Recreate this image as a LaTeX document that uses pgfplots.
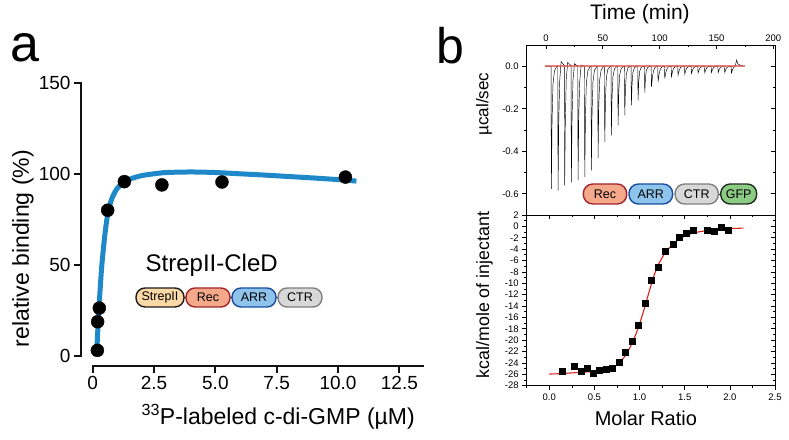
\documentclass[border=0pt]{standalone}
\usepackage{pgfplots}
\pgfplotsset{compat=1.18}
\usepackage{fontspec}
\setmainfont{Liberation Sans}
\definecolor{fitblue}{HTML}{1E88C8}
\definecolor{recfill}{HTML}{F5A98B}
\definecolor{recdraw}{HTML}{A3232A}
\definecolor{arrfill}{HTML}{8EC4EC}
\definecolor{arrdraw}{HTML}{1A4DA0}
\definecolor{ctrfill}{HTML}{D8D8D8}
\definecolor{ctrdraw}{HTML}{808080}
\definecolor{gfpfill}{HTML}{8CCB84}
\definecolor{gfpdraw}{HTML}{1F2F1F}
\definecolor{strfill}{HTML}{FBD9A6}
\definecolor{strdraw}{HTML}{1A1A1A}
\definecolor{fitred}{HTML}{E0201B}
\definecolor{baser}{HTML}{D9534F}
\definecolor{axblack}{HTML}{111111}
\newcommand{\fs}[1]{\fontsize{#1}{#1}\selectfont}
\begin{document}
\begin{tikzpicture}[x=1pt,y=1pt]
\path[use as bounding box] (0,0) rectangle (789,439);
% ---------------- panel a
\pgfplotsset{panela/.style={scale only axis, anchor=south west, height=273.3pt,
  tick align=outside, major tick length=7pt,
  every tick/.append style={draw=axblack,line width=1.8pt},
  tick label style={font=\fs{19}},
  /pgf/number format/assume math mode=true,
  label style={font=\fs{23}}, clip=false}}
\begin{axis}[panela,
  at={(81pt,83pt)}, width=342.9pt,
  xmin=-0.477, xmax=13.5, ymin=0, ymax=150,
  axis y line*=left, axis x line=none,
  axis line style={draw=axblack, line width=1.8pt, -},
  ytick={0,50,100,150}, yticklabels={0,50,100,150},
  ylabel={relative binding (\%)},
  y label style={at={(axis description cs:-0.169,0.393)},anchor=center},
]
\addplot[fitblue, line width=5pt, smooth] coordinates {
 (0.17,3) (0.2,12) (0.25,25) (0.3,36) (0.35,46) (0.4,54) (0.5,67) (0.6,77)
 (0.7,83) (0.8,87) (1.0,92) (1.3,95.5) (1.6,97.5) (2.0,99) (2.5,100) (3,100.7)
 (4,101) (5,100.7) (6,100) (7,99.3) (8,98.5) (9,97.7) (10,96.8) (10.75,96)};
\addplot[only marks, mark=*, mark size=6.5pt, black] coordinates {
 (0.19,3.1) (0.2,18.8) (0.27,26.3) (0.61,80) (1.29,95.7) (2.82,93.9) (5.27,95.5) (10.3,98.2)};
\end{axis}
\begin{axis}[panela,
  at={(92.7pt,73pt)}, width=331.2pt,
  xmin=0, xmax=13.5, ymin=0, ymax=1,
  axis x line*=bottom, axis y line=none,
  axis line style={draw=axblack, line width=1.8pt, -},
  xtick={0,2.5,5,7.5,10,12.5}, xticklabels={0,2.5,5.0,7.5,10.0,12.5},
  xlabel={\textsuperscript{33}P-labeled c-di-GMP (µM)},
  x label style={at={(axis description cs:0.56,-0.1866)},anchor=center},
]
\addplot[draw=none] coordinates {(1,0.5)};
\end{axis}
\node[font=\fs{24}] at (211.7,174) {StrepII-CleD};
\tikzset{dom/.style={rounded corners=9pt, minimum height=19pt, inner sep=0pt, line width=1.4pt, font=\fs{12.5}}}
\fill[axblack] (180,141.1) rectangle (304,141.9);
\node[dom, draw=strdraw, fill=strfill, minimum width=48pt] at (160,141.5) {StrepII};
\node[dom, draw=recdraw, fill=recfill, minimum width=44pt] at (208,141.5) {Rec};
\node[dom, draw=arrdraw, fill=arrfill, minimum width=44pt] at (254,141.5) {ARR};
\node[dom, draw=ctrdraw, fill=ctrfill, minimum width=44pt] at (300,141.5) {CTR};
\node[font=\fs{52}] at (25,391) {a};
\node[font=\fs{50}] at (450,393) {b};
% ---------------- panel b top
\pgfplotsset{itc/.style={scale only axis, width=248.3pt, anchor=south west,
  axis line style={line width=0.8pt}, every tick/.append style={black,line width=0.7pt},
  major tick length=4.5pt, minor tick length=2.5pt,
  tick label style={font=\fs{9.5}}, /pgf/number format/assume math mode=true}}
\begin{axis}[itc, at={(526.7pt,224pt)}, height=170pt,
  xmin=-17, xmax=201.5, ymin=-0.7, ymax=0.1,
  tick align=inside, xtick pos=right, xticklabel pos=right, ytick pos=right,
  xtick={0,50,100,150,200}, xticklabels={0,50,100,150,200},
  minor xtick={25,75,125,175},
  ytick={0,-0.2,-0.4,-0.6}, yticklabels={}, minor ytick={-0.1,-0.3,-0.5},
  xlabel={Time (min)}, label style={font=\fs{21}},
  x label style={at={(axis description cs:0.456,1.182)},anchor=center},
]
\addplot[black, line width=0.45pt] coordinates {
 (-1,0) (4.4,0) (4.7,-0.577) (5.3,-0.260) (6.1,-0.087) (7.4,-0.023) (9.5,0)
 (10.3,0) (10.6,-0.585) (11.2,-0.263) (12.0,-0.070) (13.3,0.022) (15.0,0.01)
 (16.1,0.005) (16.4,-0.561) (17.0,-0.252) (17.8,-0.060) (19.1,0.018) (21.0,0.008)
 (22.0,0.004) (22.3,-0.546) (22.9,-0.246) (23.7,-0.070) (25.0,0.012) (27.0,0.004)
 (27.9,0.002) (28.2,-0.535) (28.8,-0.241) (29.6,-0.075) (30.9,0.006) (33.0,0)
 (33.8,0) (34.1,-0.522) (34.7,-0.235) (35.5,-0.078) (36.8,-0.021) (39.0,0)
 (39.6,0) (39.9,-0.490) (40.5,-0.221) (41.3,-0.074) (42.6,-0.020) (45.0,0)
 (45.5,0) (45.8,-0.431) (46.4,-0.194) (47.2,-0.065) (48.5,-0.017) (50.8,0)
 (51.4,0) (51.7,-0.357) (52.3,-0.161) (53.1,-0.054) (54.4,-0.014) (56.6,0)
 (57.2,0) (57.5,-0.325) (58.1,-0.146) (58.9,-0.049) (60.2,-0.013) (62.5,0)
 (63.1,0) (63.4,-0.278) (64.0,-0.125) (64.8,-0.042) (66.1,-0.011) (68.4,0)
 (69.0,0) (69.3,-0.231) (69.9,-0.104) (70.7,-0.035) (72.0,-0.009) (74.2,0)
 (74.8,0) (75.1,-0.184) (75.7,-0.083) (76.5,-0.028) (77.8,-0.007) (80.1,0)
 (80.7,0) (81.0,-0.160) (81.6,-0.072) (82.4,-0.024) (83.7,-0.006) (86.0,0)
 (86.6,0) (86.9,-0.124) (87.5,-0.056) (88.3,-0.019) (89.6,-0.005) (91.9,0)
 (92.5,0) (92.8,-0.097) (93.7,-0.049) (94.7,-0.019) (96.0,-0.005) (98.0,0)
 (98.3,0) (98.6,-0.074) (99.5,-0.037) (100.5,-0.015) (101.8,-0.004) (103.8,0)
 (104.2,0) (104.5,-0.058) (105.4,-0.029) (106.4,-0.012) (107.7,-0.003) (109.7,0)
 (110.1,0) (110.4,-0.050) (111.3,-0.025) (112.3,-0.010) (113.6,-0.003) (115.5,0)
 (115.9,0) (116.2,-0.042) (117.1,-0.021) (118.1,-0.008) (119.4,-0.002) (121.4,0)
 (121.8,0) (122.1,-0.038) (123.0,-0.019) (124.0,-0.008) (125.3,-0.002) (127.3,0)
 (127.7,0) (128.0,-0.035) (128.9,-0.018) (129.9,-0.007) (131.2,-0.002) (133.1,0)
 (133.5,0) (133.8,-0.033) (134.7,-0.017) (135.7,-0.007) (137.0,-0.002) (139.0,0)
 (139.4,0) (139.7,-0.031) (140.6,-0.016) (141.6,-0.006) (142.9,-0.002) (144.9,0)
 (145.3,0) (145.6,-0.030) (146.5,-0.015) (147.5,-0.006) (148.8,-0.002) (150.8,0)
 (151.2,0) (151.5,-0.030) (152.4,-0.015) (153.4,-0.006) (154.7,-0.002) (156.6,0)
 (157.0,0) (157.3,-0.030) (158.2,-0.015) (159.2,-0.006) (160.5,-0.002) (162.5,0)
 (162.9,0) (163.2,-0.032) (164.1,-0.016) (165.1,-0.006) (166.4,0.000) (167.8,0.030)
 (168.6,0.012) (170.5,0.006) (173.5,0.002)};
\addplot[baser, line width=1.8pt, opacity=0.75] coordinates {(-1,0) (175,0)};
\end{axis}
\begin{axis}[itc, at={(526.7pt,224pt)}, height=170pt,
  xmin=-17, xmax=201.5, ymin=-0.7, ymax=0.1,
  xtick=\empty, ytick pos=left,
  tick align=outside,
  ytick={0,-0.2,-0.4,-0.6}, yticklabels={0.0,-0.2,-0.4,-0.6}, minor ytick={-0.1,-0.3,-0.5},
  ylabel={µcal/sec}, label style={font=\fs{17}},
  y label style={at={(axis description cs:-0.172,0.653)},anchor=center},
]
\addplot[draw=none] coordinates {(0,0)};
\end{axis}
\fill[axblack] (630,244.6) rectangle (657,245.4);
\fill[axblack] (714,244.6) rectangle (726,245.4);
\node[dom, rounded corners=9.5pt, minimum height=20pt, draw=recdraw, fill=recfill, minimum width=43.4pt] at (605,245) {Rec};
\node[dom, rounded corners=9.5pt, minimum height=20pt, draw=arrdraw, fill=arrfill, minimum width=43.7pt] at (650.8,245) {ARR};
\node[dom, rounded corners=9.5pt, minimum height=20pt, draw=ctrdraw, fill=ctrfill, minimum width=43.3pt] at (696.7,245) {CTR};
\node[dom, rounded corners=9.5pt, minimum height=20pt, draw=gfpdraw, fill=gfpfill, minimum width=36pt] at (738.7,245) {GFP};
% ---------------- panel b bottom
\begin{axis}[itc, at={(526.7pt,53.3pt)}, height=170.7pt,
  xmin=-0.25, xmax=2.5, ymin=-28, ymax=2,
  tick align=outside, xtick pos=left, ytick pos=left,
  xtick={0,0.5,1,1.5,2,2.5}, xticklabels={0.0,0.5,1.0,1.5,2.0,2.5},
  minor xtick={-0.25,0.25,0.75,1.25,1.75,2.25},
  ytick={-28,-26,...,2}, yticklabels={-28,-26,-24,-22,-20,-18,-16,-14,-12,-10,-8,-6,-4,-2,0,2},
  minor ytick={-27,-25,...,1},
  xlabel={Molar Ratio}, ylabel={kcal/mole of injectant},
  x label style={font=\fs{20}, at={(axis description cs:0.48,-0.189)},anchor=center},
  y label style={font=\fs{17.8}, at={(axis description cs:-0.170,0.531)},anchor=center},
]
\addplot[fitred, line width=1.1pt, smooth] coordinates {
 (0.0,-25.95) (0.1,-25.9) (0.2,-25.8) (0.3,-25.7) (0.4,-25.6) (0.5,-25.45) (0.6,-25.15)
 (0.7,-24.7) (0.75,-24.35) (0.8,-23.6) (0.85,-22.5) (0.9,-21.1) (0.95,-19.3) (1.0,-17.1)
 (1.05,-14.6) (1.1,-11.8) (1.15,-9.1) (1.2,-7.0) (1.25,-5.5) (1.3,-4.3) (1.4,-2.7)
 (1.5,-1.7) (1.6,-1.15) (1.7,-0.85) (1.8,-0.65) (1.9,-0.5) (2.0,-0.4) (2.15,-0.3)};
\addplot[only marks, mark=square*, mark size=3pt, black] coordinates {
 (0.148,-25.5) (0.278,-24.6) (0.348,-25.4) (0.415,-24.9) (0.489,-25.8) (0.556,-25.2)
 (0.626,-25.1) (0.696,-25.0) (0.770,-23.9) (0.844,-22.1) (0.919,-20.2) (0.989,-17.4)
 (1.063,-13.5) (1.133,-9.4) (1.211,-7.2) (1.289,-4.4) (1.367,-3.1) (1.437,-1.9)
 (1.511,-1.2) (1.589,-0.6) (1.748,-0.7) (1.826,-0.8) (1.904,-0.1) (1.985,-0.7)};
\end{axis}
\begin{axis}[itc, at={(526.7pt,53.3pt)}, height=170.7pt,
  xmin=-0.25, xmax=2.5, ymin=-28, ymax=2,
  tick align=inside, xtick pos=right, ytick pos=right,
  xtick={0,0.5,1,1.5,2,2.5}, xticklabels={}, minor xtick={-0.25,0.25,0.75,1.25,1.75,2.25},
  ytick={-28,-26,...,2}, yticklabels={}, minor ytick={-27,-25,...,1},
]
\addplot[draw=none] coordinates {(0,0)};
\end{axis}
% panel a axis lines and tick marks, as filled bars
\fill[axblack] (80.1,82.1) rectangle (81.9,357.2);
\fill[axblack] (74,82.1) rectangle (81.9,83.9);
\fill[axblack] (74,173.2) rectangle (81.9,175.0);
\fill[axblack] (74,264.3) rectangle (81.9,266.1);
\fill[axblack] (74,355.4) rectangle (81.9,357.2);
\fill[axblack] (91.8,72.1) rectangle (423.9,73.9);
\fill[axblack] (91.8,66) rectangle (93.6,73.9);
\fill[axblack] (153.1,66) rectangle (154.9,73.9);
\fill[axblack] (214.5,66) rectangle (216.3,73.9);
\fill[axblack] (275.8,66) rectangle (277.6,73.9);
\fill[axblack] (337.1,66) rectangle (338.9,73.9);
\fill[axblack] (398.5,66) rectangle (400.3,73.9);
\end{tikzpicture}
\end{document}
